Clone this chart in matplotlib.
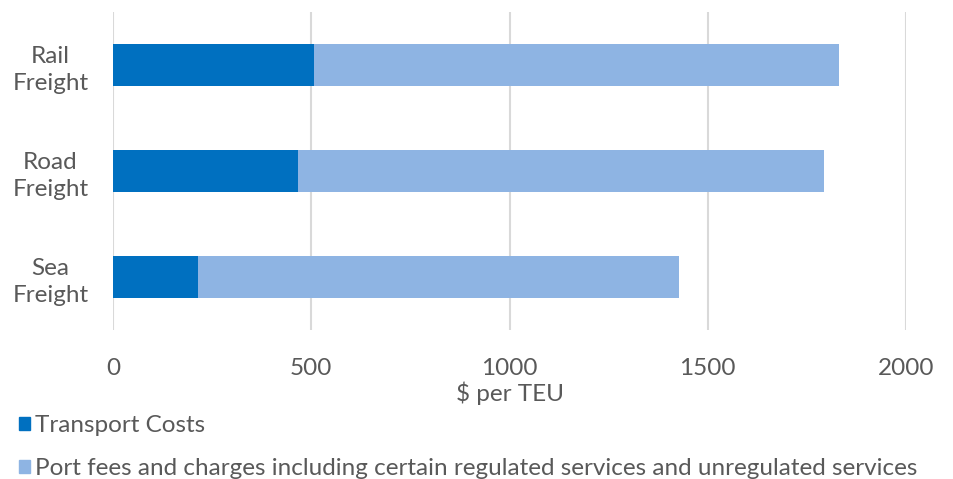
import matplotlib.pyplot as plt
from matplotlib.patches import Patch

plt.rcParams['font.family'] = ['Lato', 'DejaVu Sans']

cats = ['Sea\nFreight', 'Road\nFreight', 'Rail\nFreight']
transport = [215, 466, 508]
port = [1212, 1326, 1324]
xticks = [0, 500, 1000, 1500, 2000]

dark = '#0070c0'
light = '#8eb4e3'
grey = '#595959'

fig = plt.figure(figsize=(9.54, 4.79), dpi=100)
ax = fig.add_axes([0.1185, 0.311, 0.8312, 0.664])

y = range(len(cats))
ax.barh(y, transport, height=0.4, color=dark, zorder=3)
ax.barh(y, port, left=transport, height=0.4, color=light, zorder=3)

ax.set_xlim(0, 2000)
ax.set_ylim(-0.5, 2.5)
ax.set_xticks(xticks)
ax.set_xticklabels([str(t) for t in xticks], fontsize=17.5, color=grey)
ax.set_yticks(list(y))
ax.set_yticklabels(cats, fontsize=17.5, color=grey, linespacing=1.35)
for lab in ax.get_yticklabels():
    lab.set_ha('center')
ax.tick_params(axis='y', length=0, pad=45)
ax.tick_params(axis='x', length=0, pad=20)
ax.grid(axis='x', color='#d9d9d9', linewidth=1.5, zorder=0)
for s in ax.spines.values():
    s.set_visible(False)
ax.set_xlabel(r'\$ per TEU', fontsize=17.5, color=grey, labelpad=2)

handles = [Patch(color=dark, label='Transport Costs'),
           Patch(color=light, label='Port fees and charges including certain regulated services and unregulated services')]
fig.legend(handles=handles, loc='upper left', bbox_to_anchor=(0.002, 0.169),
           frameon=False, fontsize=17.5, labelcolor=grey, handlelength=0.45,
           handleheight=0.45, handletextpad=0.2, labelspacing=0.9,
           borderaxespad=0.3)

fig.savefig('out.png', dpi=100)
